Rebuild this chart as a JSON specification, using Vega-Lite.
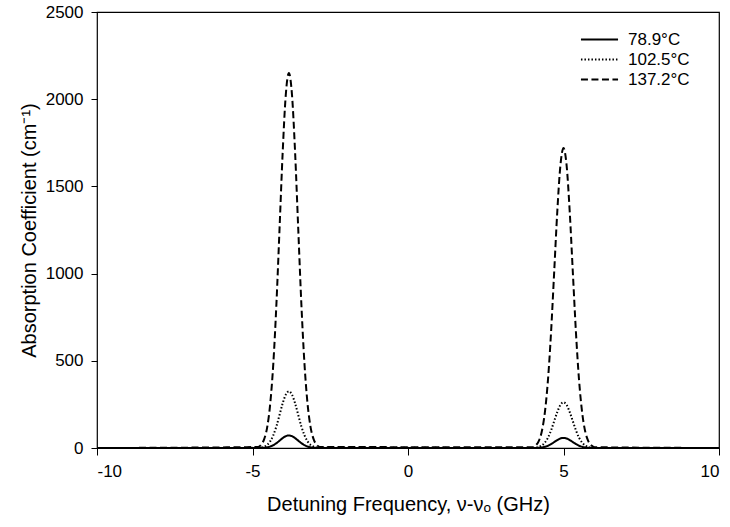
{
  "$schema": "https://vega.github.io/schema/vega-lite/v6.json",
  "width": 622,
  "height": 436,
  "autosize": {"type": "none"},
  "padding": {"left": 97, "top": 12, "right": 11, "bottom": 79},
  "background": "white",
  "config": {
    "font": "Liberation Sans",
    "view": {"stroke": "black", "strokeWidth": 1.2},
    "axis": {"grid": false, "domain": false, "tickColor": "black", "labelColor": "black", "titleColor": "black", "labelFont": "Liberation Sans", "titleFont": "Liberation Sans", "titleFontWeight": "normal", "labelFontSize": 17, "titleFontSize": 20, "tickSize": 7, "labelExpr": "datum.value + ''"}
  },
  "data": {"values": [
    {"x": -10, "y": 0, "s": "78.9°C"}, {"x": -4.83, "y": 0.2, "s": "78.9°C"}, {"x": -4.73, "y": 0.6, "s": "78.9°C"}, {"x": -4.63, "y": 1.6, "s": "78.9°C"}, {"x": -4.53, "y": 3.9, "s": "78.9°C"}, {"x": -4.43, "y": 8.5, "s": "78.9°C"}, {"x": -4.33, "y": 16.3, "s": "78.9°C"}, {"x": -4.23, "y": 27.8, "s": "78.9°C"}, {"x": -4.13, "y": 42.2, "s": "78.9°C"}, {"x": -4.03, "y": 56.7, "s": "78.9°C"}, {"x": -3.93, "y": 67.8, "s": "78.9°C"}, {"x": -3.83, "y": 72, "s": "78.9°C"}, {"x": -3.73, "y": 67.8, "s": "78.9°C"}, {"x": -3.63, "y": 56.7, "s": "78.9°C"}, {"x": -3.53, "y": 42.2, "s": "78.9°C"}, {"x": -3.43, "y": 27.8, "s": "78.9°C"}, {"x": -3.33, "y": 16.3, "s": "78.9°C"}, {"x": -3.23, "y": 8.5, "s": "78.9°C"}, {"x": -3.13, "y": 3.9, "s": "78.9°C"}, {"x": -3.03, "y": 1.6, "s": "78.9°C"}, {"x": -2.93, "y": 0.6, "s": "78.9°C"}, {"x": -2.83, "y": 0.2, "s": "78.9°C"},
    {"x": 4.0, "y": 0.15, "s": "78.9°C"}, {"x": 4.1, "y": 0.5, "s": "78.9°C"}, {"x": 4.2, "y": 1.3, "s": "78.9°C"}, {"x": 4.3, "y": 3.1, "s": "78.9°C"}, {"x": 4.4, "y": 6.8, "s": "78.9°C"}, {"x": 4.5, "y": 13.1, "s": "78.9°C"}, {"x": 4.6, "y": 22.4, "s": "78.9°C"}, {"x": 4.7, "y": 34, "s": "78.9°C"}, {"x": 4.8, "y": 45.7, "s": "78.9°C"}, {"x": 4.9, "y": 54.6, "s": "78.9°C"}, {"x": 5.0, "y": 58, "s": "78.9°C"}, {"x": 5.1, "y": 54.6, "s": "78.9°C"}, {"x": 5.2, "y": 45.7, "s": "78.9°C"}, {"x": 5.3, "y": 34, "s": "78.9°C"}, {"x": 5.4, "y": 22.4, "s": "78.9°C"}, {"x": 5.5, "y": 13.1, "s": "78.9°C"}, {"x": 5.6, "y": 6.8, "s": "78.9°C"}, {"x": 5.7, "y": 3.1, "s": "78.9°C"}, {"x": 5.8, "y": 1.3, "s": "78.9°C"}, {"x": 5.9, "y": 0.5, "s": "78.9°C"}, {"x": 6.0, "y": 0.15, "s": "78.9°C"}, {"x": 10, "y": 0, "s": "78.9°C"},

    {"x": -10, "y": 0, "s": "102.5°C"}, {"x": -4.83, "y": 0.8, "s": "102.5°C"}, {"x": -4.73, "y": 2.6, "s": "102.5°C"}, {"x": -4.63, "y": 7.2, "s": "102.5°C"}, {"x": -4.53, "y": 17.6, "s": "102.5°C"}, {"x": -4.43, "y": 38.4, "s": "102.5°C"}, {"x": -4.33, "y": 73.5, "s": "102.5°C"}, {"x": -4.23, "y": 125, "s": "102.5°C"}, {"x": -4.13, "y": 190, "s": "102.5°C"}, {"x": -4.03, "y": 256, "s": "102.5°C"}, {"x": -3.93, "y": 306, "s": "102.5°C"}, {"x": -3.83, "y": 325, "s": "102.5°C"}, {"x": -3.73, "y": 306, "s": "102.5°C"}, {"x": -3.63, "y": 256, "s": "102.5°C"}, {"x": -3.53, "y": 190, "s": "102.5°C"}, {"x": -3.43, "y": 125, "s": "102.5°C"}, {"x": -3.33, "y": 73.5, "s": "102.5°C"}, {"x": -3.23, "y": 38.4, "s": "102.5°C"}, {"x": -3.13, "y": 17.6, "s": "102.5°C"}, {"x": -3.03, "y": 7.2, "s": "102.5°C"}, {"x": -2.93, "y": 2.6, "s": "102.5°C"}, {"x": -2.83, "y": 0.8, "s": "102.5°C"},
    {"x": 4.0, "y": 0.7, "s": "102.5°C"}, {"x": 4.1, "y": 2.1, "s": "102.5°C"}, {"x": 4.2, "y": 5.8, "s": "102.5°C"}, {"x": 4.3, "y": 14.2, "s": "102.5°C"}, {"x": 4.4, "y": 30.9, "s": "102.5°C"}, {"x": 4.5, "y": 59.2, "s": "102.5°C"}, {"x": 4.6, "y": 101, "s": "102.5°C"}, {"x": 4.7, "y": 154, "s": "102.5°C"}, {"x": 4.8, "y": 206, "s": "102.5°C"}, {"x": 4.9, "y": 247, "s": "102.5°C"}, {"x": 5.0, "y": 262, "s": "102.5°C"}, {"x": 5.1, "y": 247, "s": "102.5°C"}, {"x": 5.2, "y": 206, "s": "102.5°C"}, {"x": 5.3, "y": 154, "s": "102.5°C"}, {"x": 5.4, "y": 101, "s": "102.5°C"}, {"x": 5.5, "y": 59.2, "s": "102.5°C"}, {"x": 5.6, "y": 30.9, "s": "102.5°C"}, {"x": 5.7, "y": 14.2, "s": "102.5°C"}, {"x": 5.8, "y": 5.8, "s": "102.5°C"}, {"x": 5.9, "y": 2.1, "s": "102.5°C"}, {"x": 6.0, "y": 0.7, "s": "102.5°C"}, {"x": 10, "y": 0, "s": "102.5°C"},

    {"x": -10, "y": 0, "s": "137.2°C"}, {"x": -4.83, "y": 5.6, "s": "137.2°C"}, {"x": -4.73, "y": 17.4, "s": "137.2°C"}, {"x": -4.63, "y": 48, "s": "137.2°C"}, {"x": -4.53, "y": 117, "s": "137.2°C"}, {"x": -4.43, "y": 254, "s": "137.2°C"}, {"x": -4.33, "y": 486, "s": "137.2°C"}, {"x": -4.23, "y": 830, "s": "137.2°C"}, {"x": -4.13, "y": 1260, "s": "137.2°C"}, {"x": -4.03, "y": 1694, "s": "137.2°C"}, {"x": -3.93, "y": 2025, "s": "137.2°C"}, {"x": -3.83, "y": 2150, "s": "137.2°C"}, {"x": -3.73, "y": 2025, "s": "137.2°C"}, {"x": -3.63, "y": 1694, "s": "137.2°C"}, {"x": -3.53, "y": 1260, "s": "137.2°C"}, {"x": -3.43, "y": 830, "s": "137.2°C"}, {"x": -3.33, "y": 486, "s": "137.2°C"}, {"x": -3.23, "y": 254, "s": "137.2°C"}, {"x": -3.13, "y": 117, "s": "137.2°C"}, {"x": -3.03, "y": 48, "s": "137.2°C"}, {"x": -2.93, "y": 17.4, "s": "137.2°C"}, {"x": -2.83, "y": 5.6, "s": "137.2°C"},
    {"x": 4.0, "y": 4.5, "s": "137.2°C"}, {"x": 4.1, "y": 13.9, "s": "137.2°C"}, {"x": 4.2, "y": 38.4, "s": "137.2°C"}, {"x": 4.3, "y": 93.4, "s": "137.2°C"}, {"x": 4.4, "y": 203, "s": "137.2°C"}, {"x": 4.5, "y": 389, "s": "137.2°C"}, {"x": 4.6, "y": 664, "s": "137.2°C"}, {"x": 4.7, "y": 1008, "s": "137.2°C"}, {"x": 4.8, "y": 1355, "s": "137.2°C"}, {"x": 4.9, "y": 1620, "s": "137.2°C"}, {"x": 5.0, "y": 1720, "s": "137.2°C"}, {"x": 5.1, "y": 1620, "s": "137.2°C"}, {"x": 5.2, "y": 1355, "s": "137.2°C"}, {"x": 5.3, "y": 1008, "s": "137.2°C"}, {"x": 5.4, "y": 664, "s": "137.2°C"}, {"x": 5.5, "y": 389, "s": "137.2°C"}, {"x": 5.6, "y": 203, "s": "137.2°C"}, {"x": 5.7, "y": 93.4, "s": "137.2°C"}, {"x": 5.8, "y": 38.4, "s": "137.2°C"}, {"x": 5.9, "y": 13.9, "s": "137.2°C"}, {"x": 6.0, "y": 4.5, "s": "137.2°C"}, {"x": 10, "y": 0, "s": "137.2°C"}
  ]},
  "mark": {"type": "line", "color": "black", "strokeWidth": 2, "interpolate": "monotone"},
  "encoding": {
    "x": {"field": "x", "type": "quantitative", "scale": {"domain": [-10, 10], "nice": false, "zero": false}, "axis": {"values": [-10, -5, 0, 5, 10], "title": "Detuning Frequency, ν-νₒ (GHz)", "titlePadding": 15, "labelPadding": 8}},
    "y": {"field": "y", "type": "quantitative", "scale": {"domain": [0, 2500], "nice": false}, "axis": {"values": [0, 500, 1000, 1500, 2000, 2500], "title": "Absorption Coefficient (cm⁻¹)", "titlePadding": 6, "labelPadding": 8, "tickSize": 6}},
    "strokeDash": {"field": "s", "type": "nominal", "sort": ["78.9°C", "102.5°C", "137.2°C"],
      "scale": {"domain": ["78.9°C", "102.5°C", "137.2°C"], "range": [[1, 0], [1.5, 2], [7, 3.5]]},
      "legend": {"title": null, "orient": "none", "legendX": 494, "legendY": 19, "symbolType": "M-4,0H4", "symbolSize": 86, "symbolStrokeWidth": 2, "symbolStrokeColor": "black", "labelFontSize": 17, "labelColor": "black", "labelFont": "Liberation Sans", "labelOffset": 20, "rowPadding": 2}}
  }
}
